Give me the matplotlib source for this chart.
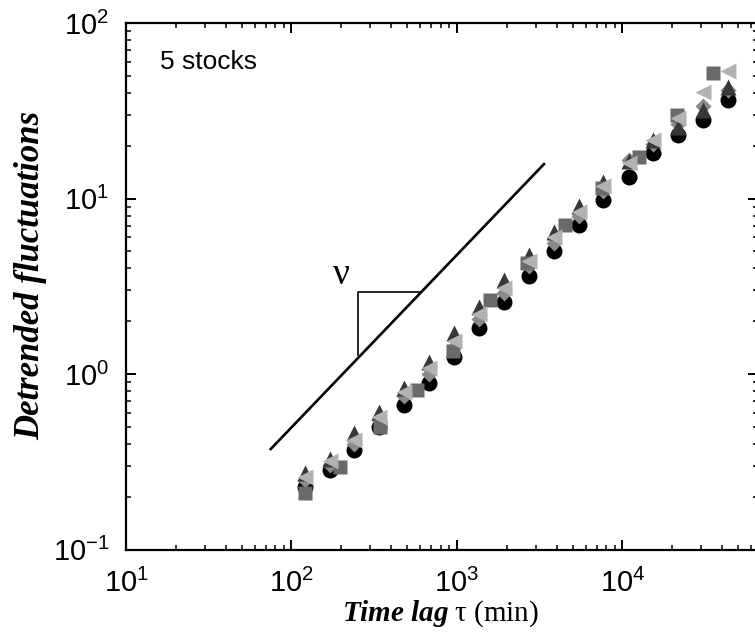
import matplotlib
matplotlib.use("Agg")
import matplotlib.pyplot as plt

plt.rcParams['font.family'] = ['Liberation Sans', 'DejaVu Sans']
plt.rcParams['mathtext.fontset'] = 'custom'
plt.rcParams['mathtext.rm'] = 'Liberation Serif'
plt.rcParams['mathtext.it'] = 'Liberation Serif:italic'
plt.rcParams['mathtext.bf'] = 'Liberation Serif:bold'
plt.rcParams['mathtext.bfit'] = 'Liberation Serif:italic:bold'

# ---- data ----
tau = [120, 170, 240, 340, 480, 680, 960, 1360, 1920, 2720, 3840, 5430,
       7680, 10900, 15400, 21700, 30700, 43400]
circles = [0.227, 0.284, 0.369, 0.50, 0.665, 0.889, 1.25, 1.83, 2.57, 3.62,
           5.02, 7.06, 9.8, 13.3, 18.2, 23.0, 28.0, 36.4]
triangles = [0.273, 0.33, 0.46, 0.607, 0.832, 1.17, 1.71, 2.41, 3.43, 4.77,
             6.44, 9.06, 12.4, 16.3, 21.5, 25.5, 31.9, 43.0]
left_tri = [0.259, 0.318, 0.42, 0.567, 0.79, 1.08, 1.55, 2.2, 3.1, 4.4,
            6.0, 8.4, 11.8, 16.0, 21.5, 28.8, 40.4, 53.0]
diamonds = [0.25, 0.305, 0.40, 0.545, 0.75, 1.0, 1.42, 2.05, 2.9, 4.1,
            5.6, 7.9, 11.0, 16.5, 20.5, 26.5, 33.5, 41.5]
tau_sq = [120, 196, 343, 573, 950, 1580, 2650, 4500, 7500, 12600, 21300, 35200]
squares = [0.21, 0.295, 0.50, 0.81, 1.35, 2.64, 4.3, 7.06, 11.5, 17.2, 29.9, 51.9]

fit_x = [74, 3400]
fit_y = [0.369, 15.9]
tri_x = [252, 252, 597]
tri_y = [1.28, 2.93, 2.93]

fig = plt.figure(figsize=(7.55, 6.32), dpi=100)
ax = fig.add_axes([126/755, 1-549.5/632, (758-126)/755, (549.5-23)/632])
ax.set_xscale('log')
ax.set_yscale('log')
ax.set_xlim(10, 6.6e4)
ax.set_ylim(0.1, 100)

ax.plot(tau, circles, 'o', color='black', ms=11.5, mec='none', zorder=3)
ax.plot(tau, diamonds, 'D', color='#8a8a8a', ms=8, mec='none', zorder=4)
ax.plot(tau, triangles, '^', color='#383838', ms=12, mec='none', zorder=5)
ax.plot(tau_sq, squares, 's', color='#6a6a6a', ms=10, mec='none', zorder=6)
ax.plot(tau, left_tri, '<', color='#b2b2b2', ms=12, mec='none', zorder=7)

ax.plot(fit_x, fit_y, color='black', lw=1.9, solid_capstyle='butt')
ax.plot(tri_x, tri_y, color='black', lw=1.2)
ax.text(201, 3.66, 'ν', family='Liberation Serif', fontsize=27, ha='center', va='center')
ax.text(0.054, 0.926, '5 stocks', transform=ax.transAxes, fontsize=19,
        ha='left', va='center')

for s in ax.spines.values():
    s.set_linewidth(1.6)
ax.tick_params(which='both', direction='in', top=True, right=True, labelsize=21)
ax.tick_params(axis='x', which='major', length=7, width=1.4, pad=14)
ax.tick_params(axis='y', which='major', length=7, width=1.4, pad=12)
ax.tick_params(which='minor', length=3.5, width=1.1)

ax.set_xlabel(r'$\mathbfit{Time\ lag}\ \mathrm{\tau\ (min)}$', fontsize=21)
ax.xaxis.set_label_coords((440-126)/632, (549.5-598)/526.5)
ax.set_ylabel('Detrended fluctuations', family='Liberation Serif', style='italic',
              weight='bold', fontsize=25)
ax.yaxis.set_label_coords((47-126)/632, 0.52)

fig.savefig('out.png', dpi=100)
